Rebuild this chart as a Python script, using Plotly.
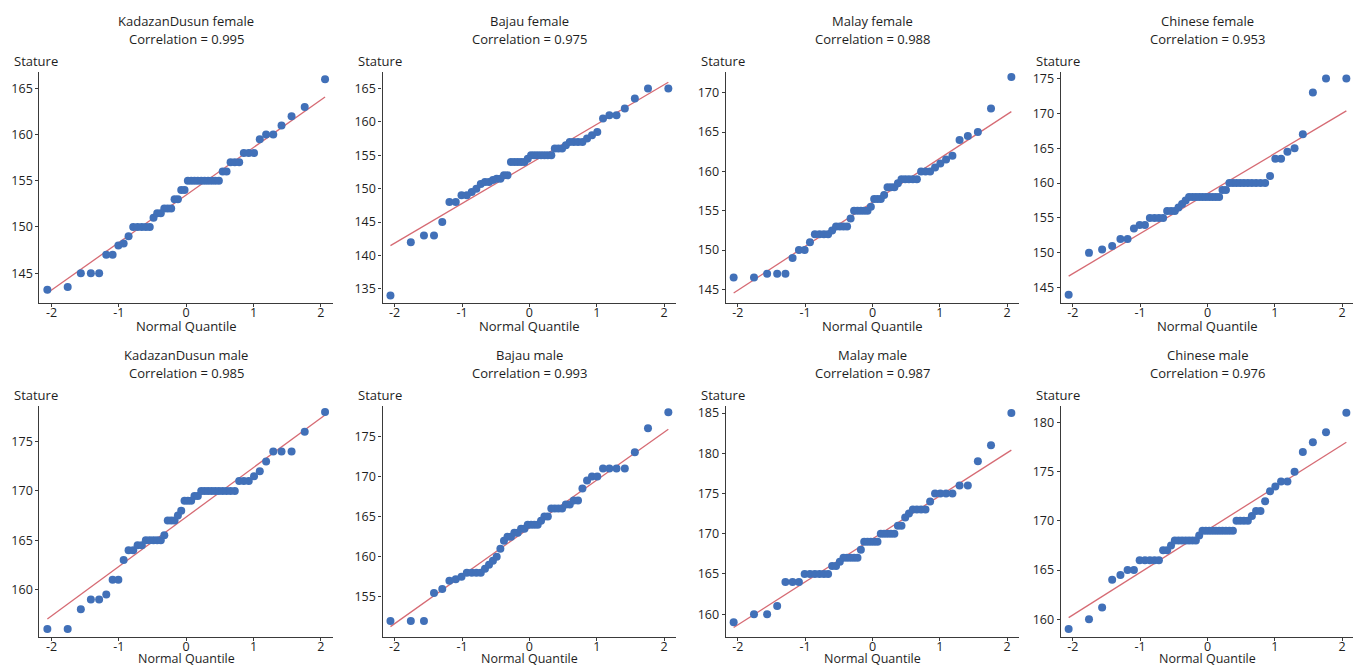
import plotly.graph_objects as go
from statistics import NormalDist, mean, stdev

# ---------------- data (sorted stature values) ----------------
groups = ["KadazanDusun female", "Bajau female", "Malay female", "Chinese female",
          "KadazanDusun male", "Bajau male", "Malay male", "Chinese male"]
correlations = ["0.995", "0.975", "0.988", "0.953", "0.985", "0.993", "0.987", "0.976"]

kd_female = [143.2, 143.5, 145, 145, 145, 147, 147, 148, 148.2, 149, 150, 150, 150, 150, 150,
             151, 151.5, 151.5, 152, 152, 152, 153, 153, 154, 154,
             155, 155, 155, 155, 155, 155, 155, 155, 155, 155,
             156, 156, 157, 157, 157, 158, 158, 158, 159.5, 160, 160, 161, 162, 163, 166]
bajau_female = [134, 142, 143, 143, 145, 148, 148, 149, 149, 149.5, 150, 150.7, 151, 151, 151.3,
                151.5, 151.5, 152, 152, 154, 154, 154, 154, 154, 154.5,
                155, 155, 155, 155, 155, 155, 155,
                156, 156, 156, 156.5, 157, 157, 157, 157, 157.5, 158, 158.5, 160.5, 161, 161,
                162, 163.5, 165, 165]
malay_female = [146.5, 146.5, 147, 147, 147, 149, 150, 150, 151, 152, 152, 152, 152, 152.5,
                153, 153, 153, 153, 154, 155, 155, 155, 155, 155, 155.5,
                156.5, 156.5, 156.5, 157, 158, 158, 158, 158.5, 159, 159, 159, 159, 159,
                160, 160, 160, 160.5, 161, 161.5, 162, 164, 164.5, 165, 168, 172]
chinese_female = [144, 150, 150.5, 151, 152, 152, 153.5, 154, 154, 155, 155, 155, 155, 156, 156,
                  156, 156.5, 157, 157.5, 158, 158, 158, 158, 158, 158, 158, 158, 158, 158,
                  159, 159, 160, 160, 160, 160, 160, 160, 160, 160, 160, 160,
                  161, 163.5, 163.5, 164.5, 165, 167, 173, 175, 175]
kd_male = [156, 156, 158, 159, 159, 159.5, 161, 161, 163, 164, 164, 164.5, 164.5, 165, 165,
           165, 165, 165, 165.5, 167, 167, 167, 167.5, 168, 169, 169, 169, 169.5, 169.5,
           170, 170, 170, 170, 170, 170, 170, 170, 170, 170,
           171, 171, 171, 171.5, 172, 173, 174, 174, 174, 176, 178]
bajau_male = [152, 152, 152, 155.5, 156, 157, 157.2, 157.5, 158, 158, 158, 158, 158.5, 159,
              159.5, 160, 161, 162, 162.5, 162.5, 163, 163, 163.5, 163.5, 164, 164, 164, 164,
              164.5, 165, 165, 166, 166, 166, 166, 166.5, 166.5, 167, 167, 168.5, 169.5,
              170, 170, 171, 171, 171, 171, 173, 176, 178]
malay_male = [159, 160, 160, 161, 164, 164, 164, 165, 165, 165, 165, 165, 165, 166, 166, 166.5,
              167, 167, 167, 167, 167, 168, 169, 169, 169, 169, 169, 170, 170, 170, 170, 170,
              171, 171, 172, 172.5, 173, 173, 173, 173, 174, 175, 175, 175, 175, 176, 176,
              179, 181, 185]
chinese_male = [159, 160, 161.2, 164, 164.5, 165, 165, 166, 166, 166, 166, 166, 167, 167, 167.5,
                168, 168, 168, 168, 168, 168, 168, 168.5, 169, 169, 169, 169, 169, 169, 169,
                169, 169, 169, 170, 170, 170, 170, 170.5, 171, 171, 172, 173, 173.5, 174, 174,
                175, 177, 178, 179, 181]

series = [kd_female, bajau_female, malay_female, chinese_female,
          kd_male, bajau_male, malay_male, chinese_male]

y_ticks = [[145, 150, 155, 160, 165],
           [135, 140, 145, 150, 155, 160, 165],
           [145, 150, 155, 160, 165, 170],
           [145, 150, 155, 160, 165, 170, 175],
           [160, 165, 170, 175],
           [155, 160, 165, 170, 175],
           [160, 165, 170, 175, 180, 185],
           [160, 165, 170, 175, 180]]
y_ranges = [[141.76, 166.8], [132.87, 167.5], [143.26, 172.66], [142.8, 175.95],
            [155.18, 178.64], [150.0, 178.8], [157.15, 185.9], [158.18, 181.7]]
x_ticks = [-2, -1, 0, 1, 2]
x_tick_labels = ["-2", "-1", "0", "1", "2"]

# ---------------- layout geometry (pixels of the page; page body has an 8px margin) ----------------
OFF = 8
W, H = 1361 - OFF, 666 - OFF
col_px = [(39.4, 333.0), (382.5, 676.3), (725.7, 1019.3), (1060.7, 1354.3)]
row_px = [(70, 302), (405, 637)]
title_px = [(19.5, 37.5), (354.5, 372.5)]
xlabel_gap = [23, 21]
xlabel_size = [13, 12.5]


def px_x(p):
    return (p - OFF) / W


def px_y(p):
    return 1 - (p - OFF) / H


MARK = "#4170b8"
LINE = "#d66b74"
TXT = "#1e1e1e"
FONT = "Open Sans"

fig = go.Figure()
nd = NormalDist()

for k, vals in enumerate(series):
    n = len(vals)
    ys = sorted(vals)
    zs = [nd.inv_cdf((i + 1) / (n + 1)) for i in range(n)]
    m, s = mean(ys), stdev(ys)
    ax = "" if k == 0 else str(k + 1)
    fig.add_trace(go.Scatter(
        x=[zs[0], zs[-1]], y=[m + s * zs[0], m + s * zs[-1]], mode="lines",
        line=dict(color=LINE, width=1.3), xaxis="x" + ax, yaxis="y" + ax,
        showlegend=False, hoverinfo="skip"))
    fig.add_trace(go.Scatter(
        x=zs, y=ys, mode="markers",
        marker=dict(color=MARK, size=8, line=dict(width=0)),
        xaxis="x" + ax, yaxis="y" + ax, showlegend=False))

    r, c = divmod(k, 4)
    x0, x1 = col_px[c]
    y0, y1 = row_px[r]
    xd = [px_x(x0), px_x(x1)]
    yd = [px_y(y1), px_y(y0)]
    axis_common = dict(showgrid=False, zeroline=False, showline=True, linecolor="#3a3a3a",
                       linewidth=1.2, ticks="outside", ticklen=3, tickcolor="#3a3a3a",
                       tickfont=dict(family=FONT, size=12.5, color=TXT))
    fig.layout["xaxis" + ax] = dict(domain=xd, range=[-2.18, 2.18], tickvals=x_ticks,
                                    ticktext=x_tick_labels, anchor="y" + ax,
                                    ticklabelstandoff=-5, **axis_common)
    fig.layout["yaxis" + ax] = dict(domain=yd, range=y_ranges[k], tickvals=y_ticks[k],
                                    anchor="x" + ax, **axis_common)

    cx = px_x((x0 + x1) / 2)
    t1, t2 = title_px[r]
    fig.add_annotation(x=cx, y=px_y(t1), xref="paper", yref="paper",
                       text=groups[k], showarrow=False, xanchor="center", yanchor="middle",
                       font=dict(family=FONT, size=13, color=TXT))
    fig.add_annotation(x=cx, y=px_y(t2), xref="paper", yref="paper",
                       text="Correlation = " + correlations[k], showarrow=False,
                       xanchor="center", yanchor="middle",
                       font=dict(family=FONT, size=13, color=TXT))
    fig.add_annotation(x=px_x(x0 - 27), y=px_y(y0 - 11), xref="paper", yref="paper",
                       text="Stature", showarrow=False, xanchor="left", yanchor="middle",
                       font=dict(family=FONT, size=13, color=TXT))
    fig.add_annotation(x=cx, y=px_y(y1 + xlabel_gap[r]), xref="paper", yref="paper",
                       text="Normal Quantile", showarrow=False, xanchor="center",
                       yanchor="middle", font=dict(family=FONT, size=xlabel_size[r], color=TXT))

fig.update_layout(width=W, height=H, margin=dict(l=0, r=0, t=0, b=0),
                  paper_bgcolor="white", plot_bgcolor="white")
fig.write_html("out.html")
